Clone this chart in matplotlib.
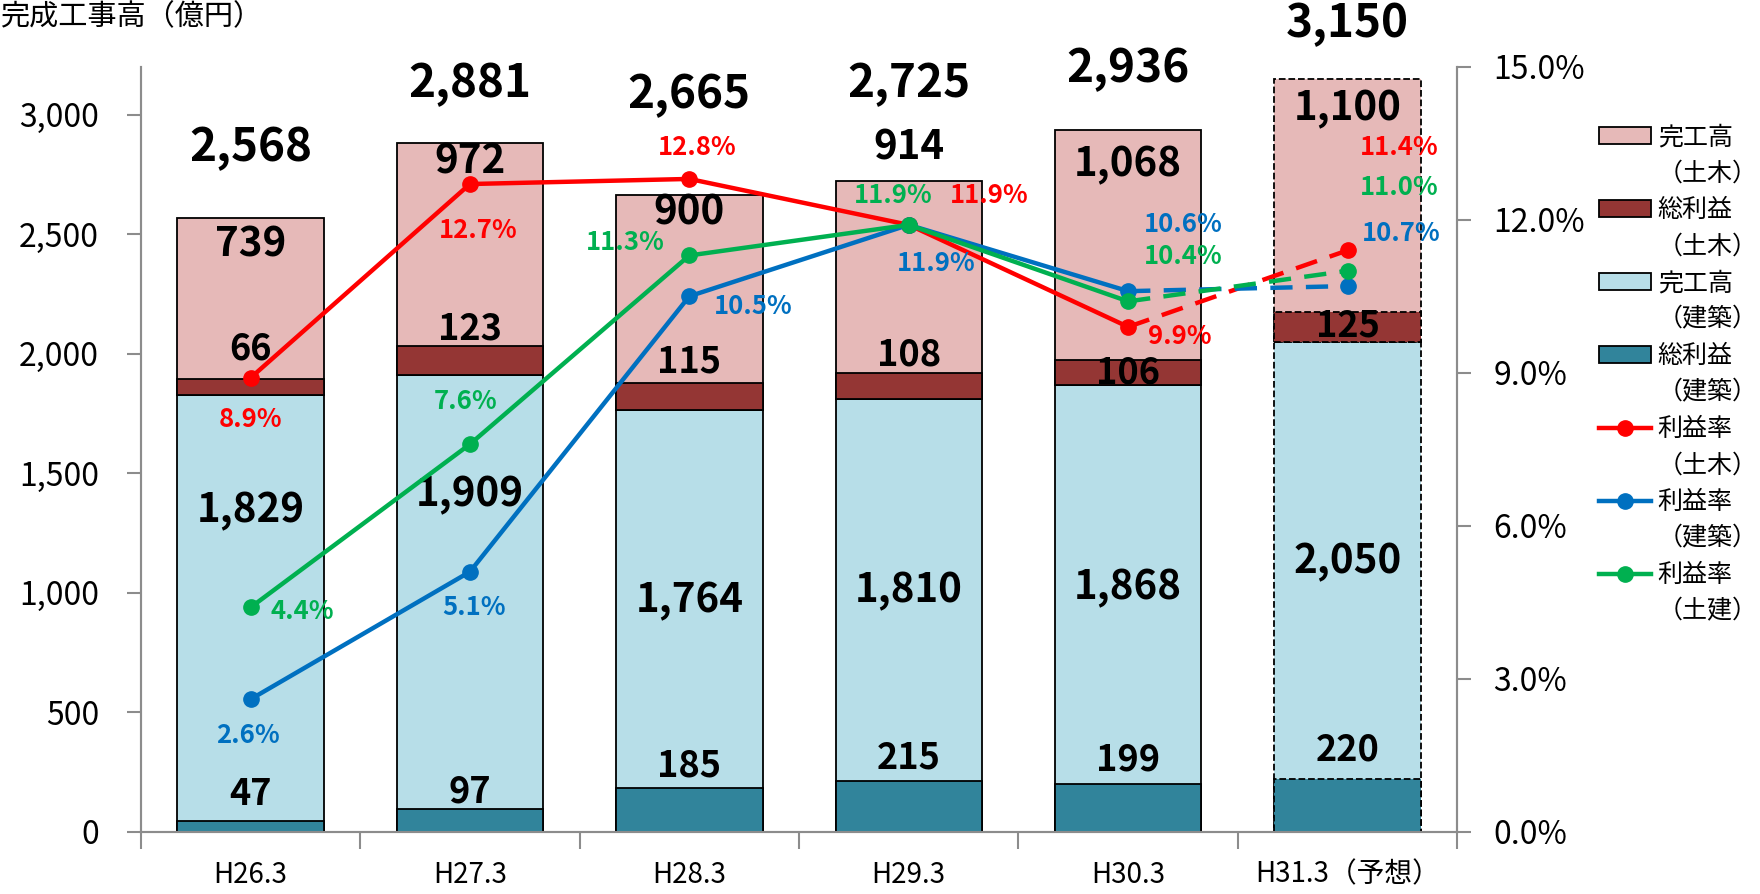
import numpy as np
import matplotlib
matplotlib.use('Agg')
import matplotlib.pyplot as plt
from matplotlib.patches import Patch
from matplotlib.lines import Line2D

plt.rcParams['font.family'] = ['Noto Sans CJK JP', 'DejaVu Sans']

years = ['H26.3', 'H27.3', 'H28.3', 'H29.3', 'H30.3', 'H31.3（予想）']
kenchiku_sales = [1829, 1909, 1764, 1810, 1868, 2050]
kenchiku_profit = [47, 97, 185, 215, 199, 220]
doboku_sales = [739, 972, 900, 914, 1068, 1100]
doboku_profit = [66, 123, 115, 108, 106, 125]
totals = [2568, 2881, 2665, 2725, 2936, 3150]

rate_doboku = [8.9, 12.7, 12.8, 11.9, 9.9, 11.4]
rate_kenchiku = [2.6, 5.1, 10.5, 11.9, 10.6, 10.7]
rate_all = [4.4, 7.6, 11.3, 11.9, 10.4, 11.0]

c_pink = '#E6B9B8'
c_dred = '#943634'
c_lblue = '#B7DEE8'
c_teal = '#31849B'
c_red = '#FF0000'
c_blue = '#0070C0'
c_green = '#00B050'
gray = '#8C8C8C'

fig = plt.figure(figsize=(17.6, 8.94), dpi=100)
ax = fig.add_axes([0.080, 0.0694, 0.748, 0.856])
ax2 = ax.twinx()

x = np.arange(len(years))
w = 0.667
ks = np.array(kenchiku_sales)
for i in range(len(years)):
    ls = '--' if i == len(years) - 1 else '-'
    lw = 1.3
    ax.bar(x[i], ks[i], w, color=c_lblue, edgecolor='black', linewidth=lw, linestyle=ls, zorder=2)
    ax.bar(x[i], kenchiku_profit[i], w, color=c_teal, edgecolor='black', linewidth=lw, linestyle=ls, zorder=3)
    ax.bar(x[i], doboku_sales[i], w, bottom=ks[i], color=c_pink, edgecolor='black', linewidth=lw, linestyle=ls, zorder=2)
    ax.bar(x[i], doboku_profit[i], w, bottom=ks[i], color=c_dred, edgecolor='black', linewidth=lw, linestyle=ls, zorder=3)

# value labels (y positions are layout, in left-axis units)
total_y = [2859, 3127, 3080, 3127, 3188, 3376]
dsales_y = [2455, 2803, 2587, 2859, 2789, 3023]
dprofit_y = [2019, 2103, 1967, 1995, 1920, 2117]
ksales_y = [1343, 1408, 967, 1009, 1023, 1131]
kprofit_y = [155, 169, 277, 310, 300, 343]
for i in range(len(years)):
    ax.text(x[i], total_y[i], f'{totals[i]:,}', ha='center', va='center', fontsize=33,
            fontweight='bold', zorder=6, clip_on=False)
    ax.text(x[i], dsales_y[i], f'{doboku_sales[i]:,}', ha='center', va='center', fontsize=29,
            fontweight='bold', zorder=6)
    ax.text(x[i], dprofit_y[i], f'{doboku_profit[i]:,}', ha='center', va='center', fontsize=26,
            fontweight='bold', zorder=6)
    ax.text(x[i], ksales_y[i], f'{kenchiku_sales[i]:,}', ha='center', va='center', fontsize=29,
            fontweight='bold', zorder=6)
    ax.text(x[i], kprofit_y[i], f'{kenchiku_profit[i]:,}', ha='center', va='center', fontsize=26,
            fontweight='bold', zorder=6)

ax.set_xlim(-0.5, len(years) - 0.5)
ax.set_ylim(0, 3200)
ax.set_yticks(np.arange(0, 3001, 500))
ax.set_yticklabels([f'{v:,}' for v in range(0, 3001, 500)], fontsize=23)
ax.set_xticks(x)
ax.set_xticklabels(years, fontsize=20)
ax.set_xticks(np.arange(-0.5, len(years)), minor=True)
ax.tick_params(axis='x', which='major', length=0, pad=20)
ax.tick_params(axis='x', which='minor', length=12, color=gray, width=1.5)
ax.tick_params(axis='y', length=10, color=gray, width=1.5, pad=20)

ax2.set_ylim(0, 15)
ax2.set_yticks(np.arange(0, 15.1, 3))
ax2.set_yticklabels([f'{v:.1f}%' for v in np.arange(0, 15.1, 3)], fontsize=23)
ax2.tick_params(axis='y', length=10, color=gray, width=1.5, pad=16)

for a in (ax, ax2):
    a.spines['top'].set_visible(False)
    for s in ('left', 'right', 'bottom'):
        a.spines[s].set_color(gray)
        a.spines[s].set_linewidth(1.5)
ax.set_zorder(1)
ax2.set_zorder(2)
ax.patch.set_visible(False)

# rate lines: solid to H30.3, dashed to forecast
rates = [(rate_doboku, c_red), (rate_kenchiku, c_blue), (rate_all, c_green)]
for r, c in rates:
    ax2.plot(x[:-1], r[:-1], color=c, linewidth=3.2, marker='o', markersize=11, zorder=4)
    ax2.plot(x[-2:], r[-2:], color=c, linewidth=3.2, linestyle=(0, (5, 3)), zorder=4)
    ax2.plot(x[-1], r[-1], color=c, marker='o', markersize=11, zorder=4)

# label offsets in pixels (layout)
off_red = [(0, -42), (8, -46), (8, 31), (81, 29), (52, -10), (52, 103)]
off_blue = [(-3, -36), (4, -36), (64, -10), (28, -39), (55, 67), (54, 53)]
off_green = [(52, -4), (-4, 43), (-64, 13), (-15, 29), (55, 45), (52, 83)]
for (r, c), offs in zip(rates, [off_red, off_blue, off_green]):
    for i, v in enumerate(r):
        ax2.annotate(f'{v:.1f}%', (x[i], v), xytext=offs[i], textcoords='offset pixels',
                     ha='center', va='center', color=c, fontsize=18.5, fontweight='bold', zorder=7)

fig.text(0.0, 0.998, '完成工事高（億円）', ha='left', va='top', fontsize=21)

# legend: each entry on two rows, second row without a key
blank = Patch(facecolor='none', edgecolor='none')
handles = [
    Patch(facecolor=c_pink, edgecolor='black', linewidth=1.3), blank,
    Patch(facecolor=c_dred, edgecolor='black', linewidth=1.3), blank,
    Patch(facecolor=c_lblue, edgecolor='black', linewidth=1.3), blank,
    Patch(facecolor=c_teal, edgecolor='black', linewidth=1.3), blank,
    Line2D([], [], color=c_red, linewidth=3.2, marker='o', markersize=11), blank,
    Line2D([], [], color=c_blue, linewidth=3.2, marker='o', markersize=11), blank,
    Line2D([], [], color=c_green, linewidth=3.2, marker='o', markersize=11), blank,
]
labels = ['完工高', '（土木）', '総利益', '（土木）', '完工高', '（建築）', '総利益', '（建築）',
          '利益率', '（土木）', '利益率', '（建築）', '利益率', '（土建）']
fig.legend(handles, labels, loc='upper left', bbox_to_anchor=(0.9085, 0.861), frameon=False,
           fontsize=18, handlelength=2.1, handletextpad=0.25, labelspacing=0.42,
           borderaxespad=0, borderpad=0)

fig.savefig('out.png', dpi=100)
